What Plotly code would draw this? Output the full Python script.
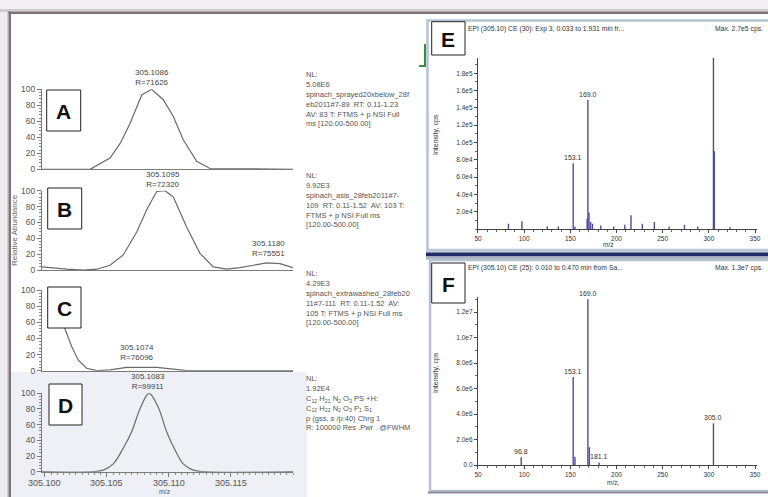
import plotly.graph_objects as go

W, H = 768, 497

# ---------------- data ----------------
mz_A = [305.09976, 305.10363, 305.10524, 305.10605, 305.10685, 305.10780, 305.10860,
        305.10954, 305.11035, 305.11115, 305.11223, 305.11331, 305.12000]
ab_A = [0, 0, 14, 32, 57, 93, 100, 87, 66, 37, 10, 1, 0]

mz_B = [305.09976, 305.10175, 305.10309, 305.10417, 305.10524, 305.10631, 305.10740,
        305.10820, 305.10901, 305.10968, 305.11035, 305.11143, 305.11250, 305.11357,
        305.11465, 305.11573, 305.11680, 305.11788, 305.11895, 305.12000]
ab_B = [4, 1, 0, 1, 6, 19, 48, 76, 99, 100, 92, 54, 21, 4, 1, 3, 6, 9, 8, 3]

mz_C = [305.10040, 305.10105, 305.10161, 305.10215, 305.10269, 305.10336, 305.10417,
        305.10524, 305.10659, 305.10766, 305.10901, 305.11035, 305.11143, 305.12000]
ab_C = [100, 75, 52, 30, 13, 3, 0, 1, 4, 4, 4, 2, 0, 0]

mz_D = [305.09976, 305.10390, 305.10470, 305.10551, 305.10631, 305.10699, 305.10766,
        305.10839, 305.10914, 305.10981, 305.11048, 305.11115, 305.11196, 305.11276,
        305.12000]
ab_D = [0, 0, 2, 10, 30, 51, 80, 100, 82, 51, 28, 10, 2, 0, 0]

D_xticks = [305.100, 305.105, 305.110, 305.115]
D_xticktext = ["305.100", "305.105", "305.110", "305.115"]

peak_labels = {
    "A": [(305.1086, 100, "305.1086<br>R=71626")],
    "B": [(305.1095, 100, "305.1095<br>R=72320"), (305.1180, 12, "305.1180<br>R=75551")],
    "C": [(305.1074, 8, "305.1074<br>R=76096")],
    "D": [(305.1083, 100, "305.1083<br>R=99911")],
}

info_nl = {"A": "NL:<br>5.08E6", "B": "NL:<br>9.92E3", "C": "NL:<br>4.29E3", "D": "NL:<br>1.92E4"}
info_txt = {
    "A": "spinach_sprayed20xbelow_28f<br>eb2011#7-89  RT: 0.11-1.23<br>AV: 83 T: FTMS + p NSI Full<br>ms [120.00-500.00]",
    "B": "spinach_asis_28feb2011#7-<br>109  RT: 0.11-1.52  AV: 103 T:<br>FTMS + p NSI Full ms<br>[120.00-500.00]",
    "C": "spinach_extrawashed_28feb20<br>11#7-111  RT: 0.11-1.52  AV:<br>105 T: FTMS + p NSI Full ms<br>[120.00-500.00]",
    "D": "C<sub>12</sub> H<sub>21</sub> N<sub>2</sub> O<sub>3</sub> PS +H:<br>"
         "C<sub>12</sub> H<sub>22</sub> N<sub>2</sub> O<sub>3</sub> P<sub>1</sub> S<sub>1</sub><br>"
         "p (gss, s /p:40) Chrg 1<br>R: 100000 Res .Pwr . @FWHM",
}

E_mz = [83.0, 97.6, 125.0, 137.0, 153.1, 155.0, 168.2, 169.0, 170.2, 172.0, 174.0, 183.0,
        197.0, 209.0, 215.7, 228.0, 241.0, 257.0, 273.6, 288.0, 305.0, 306.0, 323.0]
E_int = [6e3, 9e3, 3e3, 3e3, 7.6e4, 3e3, 1.2e4, 1.49e5, 1.9e4, 8e3, 6e3, 4e3,
         3e3, 5e3, 1.6e4, 6e3, 8e3, 3e3, 5e3, 3e3, 2.7e5, 9e4, 2e3]
E_labels = [(153.1, 7.6e4, "153.1"), (169.0, 1.49e5, "169.0")]

F_mz = [96.8, 153.1, 155.0, 169.0, 170.6, 181.1, 305.0]
F_int = [6e5, 6.9e6, 6.5e5, 1.3e7, 1.39e6, 2e5, 3.27e6]
F_labels = [(96.8, 6e5, "96.8"), (153.1, 6.9e6, "153.1"), (169.0, 1.3e7, "169.0"),
            (181.1, 2e5, "181.1"), (305.0, 3.27e6, "305.0")]

E_yticks = [2e4, 4e4, 6e4, 8e4, 1e5, 1.2e5, 1.4e5, 1.6e5, 1.8e5]
E_yticktext = ["2.0e4", "4.0e4", "6.0e4", "8.0e4", "1.0e5", "1.2e5", "1.4e5", "1.6e5", "1.8e5"]
F_yticks = [0, 2e6, 4e6, 6e6, 8e6, 1e7, 1.2e7]
F_yticktext = ["0.0", "2.0e6", "4.0e6", "6.0e6", "8.0e6", "1.0e7", "1.2e7"]

# ---------------- helpers ----------------
def xdom(a, b):
    return [a / W, b / W]

def ydom(top, bot):
    return [1 - bot / H, 1 - top / H]

def PX(x):
    return x / W

def PY(y):
    return 1 - y / H

FONT = "Liberation Sans, Arial, sans-serif"
fig = go.Figure()
layout = dict(width=W, height=H, margin=dict(l=0, r=0, t=0, b=0, pad=0, autoexpand=False),
              paper_bgcolor="white", plot_bgcolor="rgba(0,0,0,0)", template="none",
              showlegend=False, font=dict(family=FONT))
shapes = []
annots = []

def ann(x, y, text, size, color="#555", **kw):
    d = dict(xref="paper", yref="paper", x=PX(x), y=PY(y), text=text, showarrow=False,
             xanchor="center", yanchor="middle",
             font=dict(size=size, color=color, family=FONT))
    d.update(kw)
    annots.append(d)

# page frame / shadows
shapes += [
    dict(type="rect", xref="paper", yref="paper", x0=0, x1=1, y0=PY(0), y1=PY(9),
         fillcolor="#f1eff1", line=dict(width=0), layer="below"),
    dict(type="rect", xref="paper", yref="paper", x0=0, x1=1, y0=PY(9), y1=PY(11.5),
         fillcolor="#cfcbcf", line=dict(width=0), layer="below"),
    dict(type="rect", xref="paper", yref="paper", x0=0, x1=1, y0=PY(11.5), y1=PY(14),
         fillcolor="#7a7478", line=dict(width=0), layer="below"),
    dict(type="rect", xref="paper", yref="paper", x0=0, x1=PX(7), y0=PY(11.5), y1=0,
         fillcolor="#eeecee", line=dict(width=0), layer="below"),
    dict(type="rect", xref="paper", yref="paper", x0=PX(7), x1=PX(8.5), y0=PY(11.5), y1=0,
         fillcolor="#cfcbcf", line=dict(width=0), layer="below"),
    dict(type="rect", xref="paper", yref="paper", x0=PX(8.5), x1=PX(11), y0=PY(11.5), y1=0,
         fillcolor="#7a7478", line=dict(width=0), layer="below"),
    # D shaded block
    dict(type="rect", xref="paper", yref="paper", x0=PX(11), x1=PX(307), y0=PY(372), y1=0,
         fillcolor="#eef0f5", line=dict(width=0), layer="below"),
    # E window
    dict(type="rect", xref="paper", yref="paper", x0=PX(427.5), x1=PX(771), y0=PY(20.5), y1=PY(250),
         fillcolor="white", line=dict(color="#b4c2d4", width=2.5), layer="below"),
    dict(type="rect", xref="paper", yref="paper", x0=PX(426), x1=1, y0=PY(250), y1=PY(252.5),
         fillcolor="#c4ccd8", line=dict(width=0), layer="below"),
    dict(type="rect", xref="paper", yref="paper", x0=PX(426), x1=1, y0=PY(252.5), y1=PY(256.5),
         fillcolor="#1f2a66", line=dict(width=0), layer="below"),
    dict(type="rect", xref="paper", yref="paper", x0=PX(426), x1=1, y0=PY(256.5), y1=PY(259.5),
         fillcolor="#aab4c4", line=dict(width=0), layer="below"),
    # F window
    dict(type="rect", xref="paper", yref="paper", x0=PX(430), x1=PX(771), y0=PY(260), y1=PY(491),
         fillcolor="white", line=dict(color="#b4c2d4", width=2.5), layer="below"),
    dict(type="line", xref="paper", yref="paper", x0=PX(428), x1=1, y0=PY(492.5), y1=PY(492.5),
         line=dict(color="#8a8e96", width=2), layer="below"),
    # green corner mark
    dict(type="line", xref="paper", yref="paper", x0=PX(425), x1=PX(425), y0=PY(44), y1=PY(66),
         line=dict(color="#3c8c3c", width=2)),
    dict(type="line", xref="paper", yref="paper", x0=PX(419), x1=PX(426), y0=PY(66), y1=PY(66),
         line=dict(color="#3c8c3c", width=2)),
]

# ---------------- left panels ----------------
left_range = [305.09976, 305.12000]
panels = [
    ("A", mz_A, ab_A, 89.3, 169.3, "linear", (46.7, 90, 80.7, 131)),
    ("B", mz_B, ab_B, 190.7, 270.0, "linear", (47.7, 188, 81.7, 229)),
    ("C", mz_C, ab_C, 290.0, 370.7, "linear", (47.7, 287, 81, 328)),
    ("D", mz_D, ab_D, 393.3, 471.7, "spline", (49, 384, 82, 425)),
]
info_y = {"A": 68, "B": 169, "C": 267, "D": 372}

for i, (name, mz, ab, top, bot, shape, box) in enumerate(panels):
    idx = i + 1
    sfx = "" if idx == 1 else str(idx)
    xa, ya = "x" + sfx, "y" + sfx
    fig.add_trace(go.Scatter(x=mz, y=ab, mode="lines", xaxis=xa, yaxis=ya,
                             line=dict(color="#6a6a6a", width=1.2, shape=shape),
                             hoverinfo="skip"))
    isD = name == "D"
    layout["xaxis" + sfx] = dict(
        domain=xdom(42, 293), range=left_range, anchor=ya, showline=True, automargin=False,
        linecolor="#7a7a7a", linewidth=1, showgrid=False, zeroline=False,
        showticklabels=False, ticks="outside" if isD else "", ticklen=4,
        tickcolor="#7a7a7a", tickmode="array", tickvals=D_xticks,
        minor=dict(ticks="outside" if isD else "", dtick=0.0005, tick0=305.100,
                   ticklen=2, tickcolor="#8a8a8a"))
    layout["yaxis" + sfx] = dict(
        domain=ydom(top, bot), range=[0, 100], anchor=xa, showline=True, automargin=False,
        linecolor="#7a7a7a", linewidth=1, showgrid=False, zeroline=False,
        ticks="outside", ticklen=4, tickcolor="#7a7a7a", dtick=20, tick0=0,
        tickfont=dict(size=8.5, color="#555"),
        minor=dict(ticks="outside", dtick=4, tick0=0, ticklen=2, tickcolor="#8a8a8a"))
    # letter box
    x0, y0, x1, y1 = box
    shapes.append(dict(type="rect", xref="paper", yref="paper", x0=PX(x0), x1=PX(x1),
                       y0=PY(y1), y1=PY(y0), fillcolor="white",
                       line=dict(color="#222", width=1)))
    ann((x0 + x1) / 2, (y0 + y1) / 2 + 1, "<b>%s</b>" % name, 21, "#111")
    for (mx, my, txt) in peak_labels[name]:
        annots.append(dict(xref=xa, yref=ya, x=mx, y=my, text=txt, showarrow=False,
                           xanchor="center", yanchor="bottom", align="center",
                           font=dict(size=8, color="#444", family=FONT)))
    # info text
    ann(304, info_y[name], info_nl[name], 7.5, xanchor="left", yanchor="top", align="left")
    ann(304, info_y[name] + 20, info_txt[name], 7.5, xanchor="left", yanchor="top", align="left")

# D x tick labels
for v, t in zip(D_xticks, D_xticktext):
    annots.append(dict(xref="x4", yref="paper", x=v, y=PY(483), text=t, showarrow=False,
                       xanchor="center", yanchor="middle",
                       font=dict(size=9, color="#555", family=FONT)))

ann(15, 230, "Relative Abundance", 8, "#666", textangle=-90)
ann(165, 491, "m/z", 7, "#555")

# ---------------- right panels ----------------
def sticks(mz, val):
    xs, ys = [], []
    for m, v in zip(mz, val):
        xs += [m, m, None]
        ys += [0, v, None]
    return xs, ys

right_range = [49.9, 352.6]
for (idx, mz, val, top, bot, yr, tv, tt, mdt, labels) in [
    (5, E_mz, E_int, 58, 229, [0, 1.977e5], E_yticks, E_yticktext, 1e4, E_labels),
    (6, F_mz, F_int, 296.7, 465, [0, 1.32e7], F_yticks, F_yticktext, 1e6, F_labels),
]:
    xa, ya = "x%d" % idx, "y%d" % idx
    xs, ys = sticks(mz, val)
    fig.add_trace(go.Scatter(x=xs, y=ys, mode="lines", xaxis=xa, yaxis=ya,
                             line=dict(color="#4d4d9e", width=1.4), hoverinfo="skip"))
    layout["xaxis%d" % idx] = dict(
        domain=xdom(477.9, 757.4), range=right_range, anchor=ya, showline=True, automargin=False,
        linecolor="#444", linewidth=1, showgrid=False, zeroline=False,
        ticks="outside", ticklen=3, tickcolor="#444", tick0=0, dtick=50,
        tickfont=dict(size=6.5, color="#333"),
        minor=dict(ticks="outside", dtick=10, tick0=0, ticklen=2, tickcolor="#666"))
    layout["yaxis%d" % idx] = dict(
        domain=ydom(top, bot), range=yr, anchor=xa, showline=True, automargin=False,
        linecolor="#444", linewidth=1, showgrid=False, zeroline=False,
        ticks="outside", ticklen=3, tickcolor="#444", tickmode="array",
        tickvals=tv, ticktext=tt, tickfont=dict(size=6.5, color="#333"),
        minor=dict(ticks="outside", dtick=mdt, tick0=0, ticklen=2, tickcolor="#666"))
    for (mx, my, txt) in labels:
        annots.append(dict(xref=xa, yref=ya, x=mx, y=min(my, yr[1]), text=txt, showarrow=False,
                           xanchor="center", yanchor="bottom",
                           font=dict(size=7, color="#333", family=FONT)))

# E / F letter boxes
for (letter, y0, y1) in [("E", 21.7, 55), ("F", 263, 303)]:
    shapes.append(dict(type="rect", xref="paper", yref="paper", x0=PX(431.7), x1=PX(465),
                       y0=PY(y1), y1=PY(y0), fillcolor="white",
                       line=dict(color="#222", width=1)))
    ann(448.3, (y0 + y1) / 2 + 1, "<b>%s</b>" % letter, 21, "#111")

titles = [
    (29.3, "EPI (305.10) CE (30): Exp 3, 0.033 to 1.931 min fr...", "Max. 2.7e5 cps."),
    (268.3, "EPI (305.10) CE (25): 0.010 to 0.470 min from Sa...", "Max. 1.3e7 cps."),
]
for (yy, lt, rt) in titles:
    ann(466, yy, lt, 6.8, "#333", xanchor="left")
    ann(765, yy, rt, 6.8, "#333", xanchor="right")

for yy in (135, 373):
    ann(436, yy, "Intensity, cps", 7, "#333", textangle=-90)
ann(608, 244, "m/z", 6.5, "#333")
ann(613, 482, "m/z,", 6.5, "#333")

layout["shapes"] = shapes
layout["annotations"] = annots
fig.update_layout(**layout)
fig.write_html(
    "out.html",
    config={"displayModeBar": False},
    post_script="document.documentElement.style.margin='0';document.body.style.margin='0';"
                "document.body.style.padding='0';document.body.style.overflow='hidden';",
)
